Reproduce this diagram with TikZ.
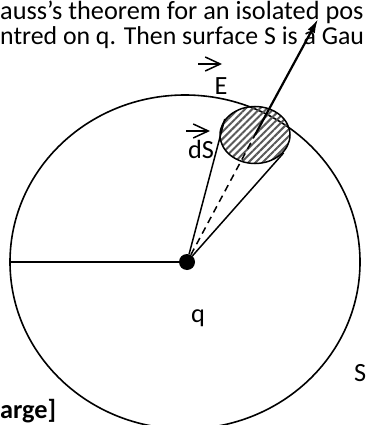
\documentclass[tikz,border=0pt]{standalone}
\usepackage{fontspec}
\setmainfont{Carlito}
\usetikzlibrary{positioning}
\usetikzlibrary{arrows.meta}
\usetikzlibrary{shapes.geometric}
\usetikzlibrary{patterns.meta}

\begin{document}
\begin{tikzpicture}[x=1pt, y=-1pt,
    txt/.style={inner sep=0pt, font=\fontsize{26.3}{30}\selectfont},
    vecarrow/.style={-{Straight Barb[length=15pt, width=14pt]}, line width=1.5pt},
    fieldarrow/.style={-{Latex[length=14pt, width=8pt]}, line width=2.2pt}]
    \useasboundingbox (0,0) rectangle (367,425);
    \clip (0,0) rectangle (367,425);

    \node[txt, anchor=base west] (line1) at (0,20) {auss’s theorem for an isolated pos};
    \node[txt, anchor=base west, font=\fontsize{25.8}{30}\selectfont] (line2) at (0,45) {ntred on q. Then surface S is a Gau};
    \node[txt, anchor=base west, font=\fontsize{26.3}{30}\selectfont\bfseries] (line3) at (0,418) {arge]};

    \node[draw, ellipse, line width=1.6pt, minimum width=350pt, minimum height=334pt] (surface) at (185,262) {};
    \node[txt, anchor=base west] (Slabel) at (354,381) {S};

    \node[circle, fill=black, inner sep=0pt, minimum size=16pt] (q) at (187,262) {};
    \node[txt] (qlabel) at (198,318) {q};
    \draw[line width=1.6pt] (q) -- (surface.west);

    \node[draw, ellipse, line width=1.5pt, minimum width=70pt, minimum height=57pt,
          pattern={Lines[angle=45, distance=5pt, line width=2pt]}, pattern color=black!65] (patch) at (255,135) {};
    \draw[line width=1.5pt] (q) -- (patch.152);
    \draw[line width=1.5pt] (q) -- (patch.-32);
    \draw[line width=1.5pt, dash pattern=on 7pt off 5pt] (q) -- (patch.center);

    \coordinate (tip) at (318,19);
    \draw[fieldarrow] (patch.center) -- (tip);

    \node[txt] (Elabel) at (221,86) {E};
    \draw[vecarrow] (198,64) -- (222,64);
    \node[txt] (dSlabel) at (201,149) {dS};
    \draw[vecarrow] (186,131) -- (210,131);
\end{tikzpicture}
\end{document}
